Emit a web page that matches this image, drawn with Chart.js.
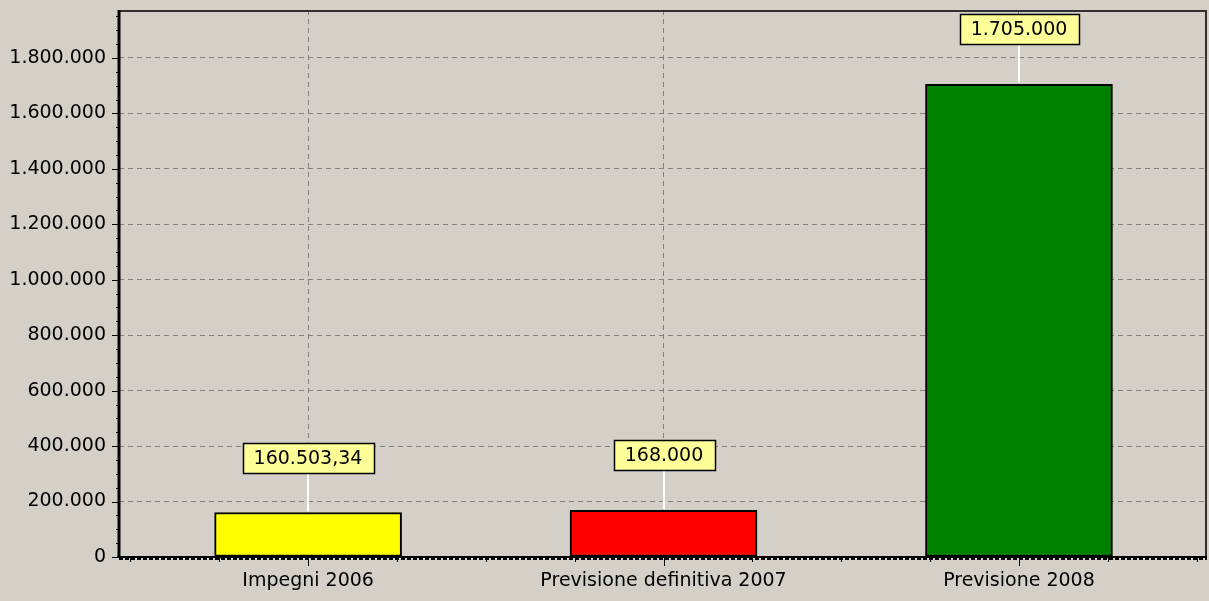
<!DOCTYPE html>
<html>
<head>
<meta charset="utf-8">
<script src="https://cdn.jsdelivr.net/npm/chart.js@4/dist/chart.umd.min.js"></script>
<style>
  html, body { margin: 0; padding: 0; background: #d4d0c8; overflow: hidden; }
  #wrap { width: 1209px; height: 601px; position: relative; }
</style>
</head>
<body>
<div id="wrap"><canvas id="c" width="1209" height="601"></canvas></div>
<script>
const categories = ['Impegni 2006', 'Previsione definitiva 2007', 'Previsione 2008'];
const values = [160503.34, 168000, 1705000];
const valueLabels = ['160.503,34', '168.000', '1.705.000'];
const barColors = ['#ffff00', '#ff0000', '#008000'];
const yTicks = [0, 200000, 400000, 600000, 800000, 1000000, 1200000, 1400000, 1600000, 1800000];
const yMinorStep = 50000;
const yMax = 1973000;

function fmtIt(v) {
  return String(Math.round(v)).replace(/\B(?=(\d{3})+(?!\d))/g, '.');
}

const FONT = 'DejaVu Sans';
const FSIZE = 19;
Chart.defaults.font.family = FONT;
Chart.defaults.font.size = FSIZE;
Chart.defaults.color = '#000';

const framePlugin = {
  id: 'frame',
  beforeDraw(chart) {
    const ctx = chart.ctx;
    ctx.save();
    ctx.fillStyle = '#d4d0c8';
    ctx.fillRect(0, 0, chart.width, chart.height);
    ctx.restore();
  },
  afterDraw(chart) {
    const ctx = chart.ctx;
    const a = chart.chartArea;
    const ys = chart.scales.y, xs = chart.scales.x;
    ctx.save();
    ctx.strokeStyle = '#303030';
    ctx.lineWidth = 2;
    ctx.beginPath();
    ctx.moveTo(a.left, a.top + 1);
    ctx.lineTo(a.right - 1, a.top + 1);
    ctx.lineTo(a.right - 1, a.bottom);
    ctx.stroke();
    ctx.strokeStyle = '#000';
    ctx.lineWidth = 1;
    for (let v = 0; v <= yMax; v += yMinorStep) {
      const py = Math.round(ys.getPixelForValue(v)) + 0.5;
      ctx.beginPath();
      if (yTicks.includes(v)) { ctx.moveTo(a.left - 7, py); ctx.lineTo(a.left, py); }
      else { ctx.moveTo(a.left - 3, py); ctx.lineTo(a.left, py); }
      ctx.stroke();
    }
    for (let k = -2; k <= 10; k++) {
      const v = k / 4;
      const px = Math.round(xs.getPixelForValue(v)) + 0.5;
      ctx.beginPath();
      if (k % 4 === 0) { ctx.moveTo(px, a.bottom); ctx.lineTo(px, a.bottom + 9); }
      else { ctx.moveTo(px, a.bottom); ctx.lineTo(px, a.bottom + 5); }
      ctx.stroke();
    }
    ctx.lineWidth = 3;
    ctx.beginPath();
    ctx.moveTo(a.left, a.top);
    ctx.lineTo(a.left, a.bottom + 1);
    ctx.stroke();
    ctx.lineWidth = 2;
    ctx.beginPath();
    ctx.moveTo(a.left - 2, a.bottom);
    ctx.lineTo(a.right, a.bottom);
    ctx.stroke();
    ctx.setLineDash([4, 2]);
    ctx.lineWidth = 2;
    ctx.beginPath();
    ctx.moveTo(a.left, a.bottom + 2);
    ctx.lineTo(a.right, a.bottom + 2);
    ctx.stroke();
    ctx.restore();
  }
};

const labelPlugin = {
  id: 'valueBoxes',
  afterDatasetsDraw(chart) {
    const ctx = chart.ctx;
    const meta = chart.getDatasetMeta(0);
    ctx.save();
    ctx.font = FSIZE + 'px "' + FONT + '"';
    ctx.textAlign = 'center';
    ctx.textBaseline = 'middle';
    meta.data.forEach((bar, i) => {
      const x = Math.round(bar.x);
      const top = bar.y;
      const boxBottom = Math.round(top - 40);
      const boxH = 30;
      const txt = valueLabels[i];
      const w = Math.round(ctx.measureText(txt).width + 22);
      ctx.strokeStyle = '#ffffff';
      ctx.lineWidth = 2;
      ctx.beginPath();
      ctx.moveTo(x, top - 1);
      ctx.lineTo(x, boxBottom);
      ctx.stroke();
      const bx = Math.round(x - w / 2) + 0.5;
      const by = boxBottom - boxH + 0.5;
      ctx.fillStyle = '#ffff99';
      ctx.fillRect(bx, by, w, boxH);
      ctx.strokeStyle = '#000';
      ctx.lineWidth = 1.5;
      ctx.strokeRect(bx, by, w, boxH);
      ctx.fillStyle = '#000';
      ctx.fillText(txt, x, by + boxH / 2 + 1);
    });
    ctx.restore();
  }
};

new Chart(document.getElementById('c'), {
  type: 'bar',
  data: {
    datasets: [{
      data: values.map((v, i) => ({ x: i, y: v })),
      backgroundColor: barColors,
      borderColor: '#000',
      borderWidth: 2,
      borderSkipped: false,
      barThickness: 187
    }]
  },
  options: {
    responsive: false,
    animation: false,
    events: [],
    layout: { padding: { top: 10, right: 2, left: 0, bottom: 0 } },
    plugins: { legend: { display: false }, tooltip: { enabled: false } },
    scales: {
      x: {
        type: 'linear',
        offset: false,
        min: -0.532,
        max: 2.529,
        afterBuildTicks(scale) {
          scale.ticks = categories.map((c, i) => ({ value: i }));
        },
        afterFit(scale) {
          scale.height = 44;
          scale.paddingLeft = 0; scale.paddingRight = 0;
          scale.paddingTop = 0; scale.paddingBottom = 0;
        },
        ticks: {
          padding: 13,
          color: '#000',
          font: { size: FSIZE, family: FONT },
          maxRotation: 0,
          autoSkip: false,
          callback: (v) => categories[Math.round(v)]
        },
        grid: { offset: false, color: '#808080', lineWidth: 1, drawTicks: false },
        border: { display: false, dash: [5, 4] }
      },
      y: {
        type: 'linear',
        min: 0,
        max: yMax,
        afterBuildTicks(scale) {
          scale.ticks = yTicks.map(v => ({ value: v }));
        },
        afterFit(scale) {
          scale.width = 119;
          scale.paddingTop = 0; scale.paddingBottom = 0;
          scale.paddingLeft = 0; scale.paddingRight = 0;
        },
        ticks: {
          padding: 13,
          color: '#000',
          autoSkip: false,
          font: { size: FSIZE, family: FONT },
          callback: (v) => fmtIt(v)
        },
        grid: {
          color: (c) => (c.tick && c.tick.value === 0) ? 'rgba(0,0,0,0)' : '#808080',
          lineWidth: 1,
          drawTicks: false
        },
        border: { display: false, dash: [5, 4] }
      }
    }
  },
  plugins: [framePlugin, labelPlugin]
});
</script>
</body>
</html>
